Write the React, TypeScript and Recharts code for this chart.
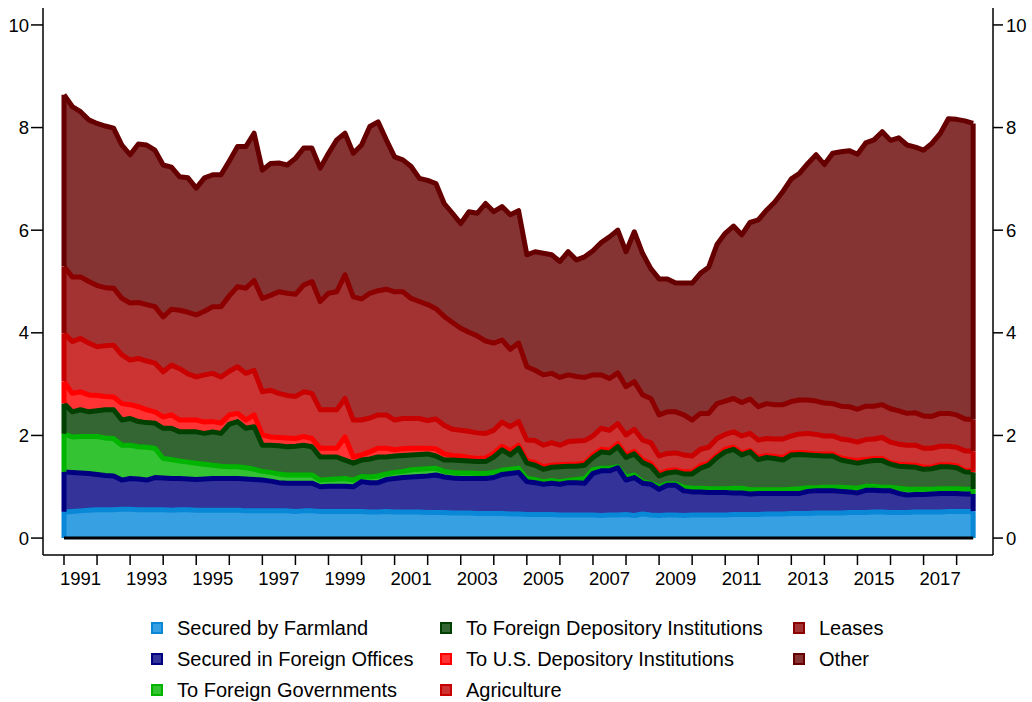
import { ComposedChart, Area, XAxis, YAxis, ReferenceLine } from 'recharts'

const FONT = '"Liberation Sans", Arial, Helvetica, sans-serif'

// quarterly observations, 1991q1 .. 2018q3
const START_YEAR = 1991
const N_QUARTERS = 111
const quarters = Array.from({ length: N_QUARTERS }, (_, i) => START_YEAR + i / 4)

const yearTicks = [
  1991, 1992, 1993, 1994, 1995, 1996, 1997, 1998, 1999, 2000, 2001, 2002, 2003, 2004,
  2005, 2006, 2007, 2008, 2009, 2010, 2011, 2012, 2013, 2014, 2015, 2016, 2017, 2018,
]
const labelYears = [1991, 1993, 1995, 1997, 1999, 2001, 2003, 2005, 2007, 2009, 2011, 2013, 2015, 2017]
const valueTicks = [0, 2, 4, 6, 8, 10]

const farmland = [
  0.51, 0.52, 0.53, 0.54, 0.55, 0.55, 0.55, 0.56, 0.56, 0.55,
  0.55, 0.55, 0.55, 0.54, 0.55, 0.55, 0.54, 0.54, 0.54, 0.54,
  0.54, 0.54, 0.53, 0.53, 0.53, 0.53, 0.53, 0.53, 0.52, 0.53,
  0.53, 0.52, 0.52, 0.52, 0.52, 0.52, 0.52, 0.51, 0.51, 0.52,
  0.51, 0.51, 0.51, 0.51, 0.50, 0.50, 0.50, 0.49, 0.49, 0.49,
  0.48, 0.48, 0.48, 0.48, 0.47, 0.47, 0.46, 0.46, 0.46, 0.46,
  0.45, 0.45, 0.45, 0.45, 0.45, 0.44, 0.45, 0.45, 0.46, 0.44,
  0.47, 0.45, 0.44, 0.45, 0.45, 0.44, 0.45, 0.45, 0.45, 0.45,
  0.45, 0.46, 0.46, 0.46, 0.46, 0.47, 0.47, 0.47, 0.48, 0.48,
  0.48, 0.49, 0.49, 0.49, 0.49, 0.50, 0.50, 0.50, 0.51, 0.51,
  0.50, 0.50, 0.50, 0.51, 0.51, 0.51, 0.51, 0.52, 0.52, 0.52, 0.52,
]

const foreignOffices = [
  0.78, 0.76, 0.74, 0.72, 0.69, 0.67, 0.66, 0.57, 0.60, 0.60,
  0.58, 0.63, 0.62, 0.62, 0.61, 0.60, 0.60, 0.61, 0.62, 0.62,
  0.62, 0.62, 0.62, 0.61, 0.60, 0.58, 0.55, 0.54, 0.55, 0.54,
  0.54, 0.48, 0.49, 0.49, 0.49, 0.48, 0.58, 0.57, 0.57, 0.62,
  0.65, 0.67, 0.68, 0.69, 0.71, 0.73, 0.69, 0.68, 0.67, 0.67,
  0.68, 0.68, 0.70, 0.76, 0.79, 0.81, 0.64, 0.62, 0.59, 0.61,
  0.60, 0.63, 0.63, 0.62, 0.81, 0.87, 0.86, 0.92, 0.67, 0.74,
  0.60, 0.60, 0.51, 0.58, 0.58, 0.48, 0.45, 0.45, 0.44, 0.44,
  0.44, 0.42, 0.42, 0.40, 0.41, 0.40, 0.40, 0.40, 0.39, 0.39,
  0.43, 0.43, 0.43, 0.43, 0.42, 0.40, 0.38, 0.43, 0.42, 0.41,
  0.42, 0.37, 0.34, 0.34, 0.34, 0.35, 0.36, 0.35, 0.35, 0.34, 0.34,
]

const foreignGov = [
  0.74, 0.69, 0.71, 0.72, 0.74, 0.73, 0.73, 0.68, 0.65, 0.63,
  0.64, 0.57, 0.38, 0.37, 0.34, 0.33, 0.32, 0.29, 0.26, 0.24,
  0.23, 0.23, 0.22, 0.20, 0.17, 0.17, 0.17, 0.16, 0.16, 0.16,
  0.16, 0.13, 0.13, 0.14, 0.15, 0.13, 0.10, 0.11, 0.13, 0.11,
  0.12, 0.12, 0.14, 0.14, 0.14, 0.13, 0.11, 0.11, 0.11, 0.11,
  0.10, 0.10, 0.10, 0.08, 0.08, 0.08, 0.06, 0.06, 0.05, 0.05,
  0.05, 0.04, 0.06, 0.09, 0.07, 0.05, 0.05, 0.02, 0.06, 0.05,
  0.03, 0.02, 0.05, 0.03, 0.03, 0.07, 0.07, 0.07, 0.07, 0.07,
  0.07, 0.09, 0.09, 0.08, 0.07, 0.07, 0.07, 0.07, 0.08, 0.09,
  0.07, 0.06, 0.07, 0.07, 0.08, 0.08, 0.09, 0.08, 0.08, 0.07,
  0.07, 0.10, 0.11, 0.10, 0.10, 0.09, 0.09, 0.09, 0.09, 0.09, 0.09,
]

const foreignDep = [
  0.59, 0.49, 0.52, 0.48, 0.50, 0.55, 0.56, 0.49, 0.52, 0.49,
  0.48, 0.49, 0.59, 0.61, 0.57, 0.59, 0.61, 0.60, 0.65, 0.64,
  0.83, 0.88, 0.77, 0.83, 0.51, 0.53, 0.55, 0.55, 0.56, 0.58,
  0.55, 0.45, 0.44, 0.43, 0.36, 0.33, 0.32, 0.35, 0.37, 0.33,
  0.32, 0.31, 0.29, 0.29, 0.29, 0.24, 0.22, 0.24, 0.24, 0.23,
  0.23, 0.23, 0.30, 0.40, 0.28, 0.39, 0.30, 0.28, 0.24, 0.26,
  0.29, 0.28, 0.26, 0.26, 0.24, 0.32, 0.30, 0.39, 0.38, 0.41,
  0.37, 0.33, 0.21, 0.21, 0.23, 0.26, 0.28, 0.39, 0.46, 0.61,
  0.72, 0.76, 0.65, 0.74, 0.59, 0.63, 0.61, 0.58, 0.67, 0.67,
  0.64, 0.63, 0.61, 0.61, 0.53, 0.51, 0.49, 0.48, 0.50, 0.52,
  0.45, 0.43, 0.44, 0.43, 0.39, 0.40, 0.43, 0.43, 0.41, 0.34, 0.33,
]

const usDep = [
  0.43, 0.36, 0.35, 0.33, 0.30, 0.26, 0.25, 0.32, 0.27, 0.29,
  0.25, 0.22, 0.22, 0.26, 0.23, 0.23, 0.23, 0.22, 0.20, 0.20,
  0.18, 0.16, 0.16, 0.23, 0.20, 0.16, 0.16, 0.17, 0.15, 0.17,
  0.16, 0.17, 0.17, 0.17, 0.45, 0.12, 0.10, 0.14, 0.17, 0.17,
  0.12, 0.13, 0.13, 0.12, 0.11, 0.14, 0.12, 0.09, 0.09, 0.07,
  0.06, 0.07, 0.07, 0.07, 0.08, 0.06, 0.05, 0.05, 0.05, 0.04,
  0.04, 0.04, 0.04, 0.04, 0.05, 0.05, 0.05, 0.06, 0.05, 0.05,
  0.05, 0.05, 0.04, 0.04, 0.04, 0.04, 0.04, 0.05, 0.04, 0.04,
  0.05, 0.04, 0.04, 0.03, 0.04, 0.04, 0.04, 0.05, 0.04, 0.04,
  0.04, 0.03, 0.04, 0.04, 0.04, 0.04, 0.05, 0.04, 0.04, 0.04,
  0.03, 0.04, 0.04, 0.04, 0.04, 0.03, 0.04, 0.04, 0.04, 0.03, 0.03,
]

const agriculture = [
  0.94, 1.01, 1.04, 1.01, 0.95, 0.99, 1.01, 0.95, 0.87, 0.94,
  0.95, 0.95, 0.88, 0.97, 1.00, 0.90, 0.84, 0.92, 0.94, 0.90,
  0.85, 0.91, 0.91, 0.87, 0.84, 0.91, 0.86, 0.83, 0.82, 0.87,
  0.88, 0.75, 0.75, 0.75, 0.75, 0.72, 0.68, 0.66, 0.65, 0.65,
  0.58, 0.59, 0.58, 0.58, 0.54, 0.58, 0.56, 0.51, 0.50, 0.51,
  0.50, 0.48, 0.45, 0.47, 0.47, 0.46, 0.40, 0.43, 0.42, 0.44,
  0.38, 0.44, 0.45, 0.44, 0.37, 0.41, 0.39, 0.39, 0.39, 0.43,
  0.39, 0.41, 0.35, 0.34, 0.33, 0.33, 0.31, 0.32, 0.31, 0.33,
  0.29, 0.30, 0.33, 0.33, 0.34, 0.33, 0.34, 0.36, 0.33, 0.36,
  0.38, 0.38, 0.35, 0.35, 0.37, 0.38, 0.36, 0.39, 0.38, 0.41,
  0.40, 0.39, 0.38, 0.39, 0.37, 0.37, 0.36, 0.36, 0.36, 0.38, 0.38,
]

const leases = [
  1.30, 1.26, 1.20, 1.20, 1.19, 1.13, 1.11, 1.10, 1.11, 1.09,
  1.10, 1.10, 1.07, 1.09, 1.14, 1.20, 1.21, 1.24, 1.30, 1.37,
  1.47, 1.56, 1.66, 1.75, 1.82, 1.85, 1.98, 1.99, 1.99, 2.08,
  2.18, 2.11, 2.27, 2.30, 2.41, 2.40, 2.36, 2.43, 2.42, 2.45,
  2.50, 2.47, 2.34, 2.28, 2.26, 2.15, 2.12, 2.08, 1.99, 1.93,
  1.89, 1.80, 1.70, 1.60, 1.51, 1.53, 1.43, 1.37, 1.37, 1.35,
  1.32, 1.30, 1.26, 1.23, 1.19, 1.04, 1.01, 0.99, 0.94, 0.93,
  0.88, 0.86, 0.80, 0.81, 0.80, 0.78, 0.70, 0.70, 0.66, 0.68,
  0.65, 0.65, 0.65, 0.67, 0.65, 0.68, 0.67, 0.67, 0.67, 0.66,
  0.65, 0.65, 0.64, 0.63, 0.64, 0.65, 0.64, 0.65, 0.64, 0.64,
  0.65, 0.65, 0.62, 0.63, 0.63, 0.62, 0.64, 0.64, 0.63, 0.62, 0.62,
]

const other = [
  3.35, 3.32, 3.22, 3.15, 3.16, 3.15, 3.12, 2.99, 2.89, 3.09,
  3.11, 3.05, 2.96, 2.77, 2.60, 2.62, 2.47, 2.60, 2.57, 2.57,
  2.63, 2.73, 2.76, 2.87, 2.50, 2.57, 2.51, 2.50, 2.65, 2.67,
  2.60, 2.60, 2.73, 2.96, 2.76, 2.80, 3.00, 3.25, 3.29, 2.91,
  2.63, 2.57, 2.57, 2.40, 2.42, 2.44, 2.20, 2.13, 2.04, 2.35,
  2.39, 2.68, 2.56, 2.60, 2.62, 2.58, 2.18, 2.31, 2.37, 2.31,
  2.26, 2.40, 2.27, 2.35, 2.42, 2.58, 2.76, 2.78, 2.63, 2.92,
  2.76, 2.53, 2.65, 2.59, 2.51, 2.57, 2.67, 2.73, 2.85, 3.10,
  3.27, 3.36, 3.27, 3.44, 3.64, 3.77, 3.95, 4.16, 4.34, 4.42,
  4.61, 4.80, 4.65, 4.88, 4.96, 4.99, 4.97, 5.13, 5.19, 5.32,
  5.23, 5.32, 5.23, 5.18, 5.18, 5.32, 5.45, 5.74, 5.76, 5.81, 5.77,
]

// bottom of the stack first
const SERIES = [
  { key: 'farmland', name: 'Secured by Farmland', values: farmland, stroke: '#0A88D8', fill: '#36A0E2' },
  { key: 'foreignOffices', name: 'Secured in Foreign Offices', values: foreignOffices, stroke: '#000080', fill: '#333399' },
  { key: 'foreignGov', name: 'To Foreign Governments', values: foreignGov, stroke: '#00B400', fill: '#33C333' },
  { key: 'foreignDep', name: 'To Foreign Depository Institutions', values: foreignDep, stroke: '#004000', fill: '#336633' },
  { key: 'usDep', name: 'To U.S. Depository Institutions', values: usDep, stroke: '#FF0000', fill: '#FF3333' },
  { key: 'agriculture', name: 'Agriculture', values: agriculture, stroke: '#C80000', fill: '#CC3333' },
  { key: 'leases', name: 'Leases', values: leases, stroke: '#8C0000', fill: '#A33333' },
  { key: 'other', name: 'Other', values: other, stroke: '#660000', fill: '#853333' },
]

// cumulative levels, drawn top layer first like a stacked twoway area
const rows = quarters.map((t, i) => {
  const row: Record<string, number> = { t }
  let acc = 0
  for (const s of SERIES) {
    acc += s.values[i]
    row[s.key] = Math.round(acc * 1000) / 1000
  }
  return row
})

const FIRST = 0
const LAST = N_QUARTERS - 1

const CHART_W = 1032
const LEFT_W = 43
const RIGHT_W = 39
const X_DOMAIN: [number, number] = [1990.365, 2019.1]
const Y_DOMAIN: [number, number] = [-0.33, 10.33]
const PX_PER_YEAR = (CHART_W - LEFT_W - RIGHT_W) / (X_DOMAIN[1] - X_DOMAIN[0])
const AXIS = { stroke: '#000', strokeWidth: 1.5 }
const TICK = { fontSize: 18.5, fill: '#000', fontFamily: FONT }

// legend laid out in three columns, filled top to bottom
const LEGEND_COLS = [151, 440, 793]
const LEGEND_ROWS = [628, 659, 690]

// year labels sit in the middle of every second year
function YearTick(props: any) {
  const { x, y, payload } = props
  const year = payload.value as number
  if (!labelYears.includes(year)) return <g />
  return (
    <text x={x + PX_PER_YEAR / 2} y={y} dy="0.71em" textAnchor="middle" {...TICK}>
      {year}
    </text>
  )
}

function edgeSegments(idx: number) {
  return SERIES.map((s, k) => {
    const lower = k === 0 ? 0 : rows[idx][SERIES[k - 1].key]
    const upper = rows[idx][s.key]
    const t = rows[idx].t
    return { key: `${s.key}-${idx}`, stroke: s.stroke, seg: [{ x: t, y: lower }, { x: t, y: upper }] }
  }).reverse()
}

function ChartLegend() {
  return (
    <>
      {SERIES.map((s, i) => {
        const col = Math.floor(i / 3)
        const row = i % 3
        return (
          <div
            key={s.key}
            style={{
              position: 'absolute',
              left: LEGEND_COLS[col],
              top: LEGEND_ROWS[row] - 12,
              height: 24,
              display: 'flex',
              alignItems: 'center',
              whiteSpace: 'nowrap',
              fontSize: 20,
              lineHeight: '24px',
              color: '#000',
            }}
          >
            <span
              style={{
                width: 12,
                height: 12,
                boxSizing: 'border-box',
                border: `2px solid ${s.stroke}`,
                background: s.fill,
                marginRight: 14,
                display: 'inline-block',
              }}
            />
            {s.name}
          </div>
        )
      })}
    </>
  )
}

export default function App() {
  return (
    <div style={{ position: 'absolute', left: 0, top: 0, width: CHART_W, height: 702, background: '#fff', fontFamily: FONT }}>
      <ComposedChart width={CHART_W} height={600} data={rows} margin={{ top: 8, right: 0, bottom: 0, left: 0 }}>
        <XAxis
          xAxisId="q" dataKey="t" type="number" domain={X_DOMAIN} allowDataOverflow
          ticks={yearTicks} interval={0} tick={<YearTick />} tickSize={10} tickMargin={7} height={45}
          axisLine={AXIS} tickLine={AXIS}
        />
        <YAxis
          yAxisId="l" type="number" domain={Y_DOMAIN} allowDataOverflow ticks={valueTicks} interval={0}
          width={LEFT_W} tickSize={12} tickMargin={2} axisLine={AXIS} tickLine={AXIS} tick={TICK}
        />
        <YAxis
          yAxisId="r" orientation="right" type="number" domain={Y_DOMAIN} allowDataOverflow ticks={valueTicks} interval={0}
          width={RIGHT_W} tickSize={10} tickMargin={3} axisLine={AXIS} tickLine={AXIS} tick={TICK}
        />
        {[...SERIES].reverse().map((s) => (
          <Area
            key={s.key}
            xAxisId="q"
            yAxisId="l"
            type="linear"
            dataKey={s.key}
            name={s.name}
            stroke={s.stroke}
            strokeWidth={5}
            strokeLinejoin="round"
            fill={s.fill}
            fillOpacity={1}
            baseValue={0}
            dot={false}
            activeDot={false}
            isAnimationActive={false}
          />
        ))}
        {[...edgeSegments(FIRST), ...edgeSegments(LAST)].map((e) => (
          <ReferenceLine key={e.key} xAxisId="q" yAxisId="l" segment={e.seg} stroke={e.stroke} strokeWidth={5} />
        ))}
        <ReferenceLine
          xAxisId="q" yAxisId="l"
          segment={[{ x: rows[FIRST].t, y: 0 }, { x: rows[LAST].t, y: 0 }]}
          stroke="#000" strokeWidth={3}
        />
      </ComposedChart>
      <ChartLegend />
    </div>
  )
}
